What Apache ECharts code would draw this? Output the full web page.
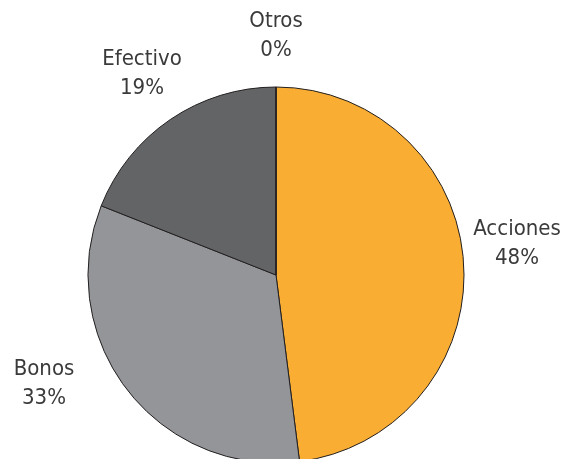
<!DOCTYPE html>
<html>
<head>
<meta charset="utf-8">
<script src="https://cdn.jsdelivr.net/npm/echarts@6/dist/echarts.min.js"></script>
<style>
  html, body { margin: 0; padding: 0; background: #fff; }
  #main { width: 566px; height: 459px; }
</style>
</head>
<body>
<div id="main"></div>
<script>
// distribución de activos
var categorias = ['Acciones', 'Bonos', 'Efectivo', 'Otros'];
var valores = [48, 33, 19, 0];
var colores = ['#f9ae33', '#939598', '#636466', '#636466'];

// posiciones de las etiquetas (centro del texto)
var posEtiquetas = [[517, 244], [44, 384], [142, 74], [276, 36]];

var datos = categorias.map(function (c, i) {
  return { name: c, value: valores[i], itemStyle: { color: colores[i] } };
});

var option = {
  animation: false,
  series: [
    {
      type: 'pie',
      center: [276, 275],
      radius: 188,
      startAngle: 90,
      clockwise: true,
      avoidLabelOverlap: false,
      minShowLabelAngle: 0,
      data: datos,
      itemStyle: {
        borderColor: '#231f20',
        borderWidth: 1
      },
      label: {
        show: true,
        position: 'outside',
        formatter: '{b}\n{d}%',
        fontFamily: 'DejaVu Sans Condensed',
        fontWeight: 200,
        fontSize: 22,
        lineHeight: 29,
        color: '#3a3a3a',
        align: 'center'
      },
      labelLine: { show: false },
      labelLayout: function (params) {
        var p = posEtiquetas[params.dataIndex];
        return { x: p[0], y: p[1], align: 'center', verticalAlign: 'middle' };
      },
      emphasis: { disabled: true }
    }
  ]
};

var dom = document.getElementById('main');
var myChart = echarts.init(dom);
myChart.setOption(option, true);
</script>
</body>
</html>
